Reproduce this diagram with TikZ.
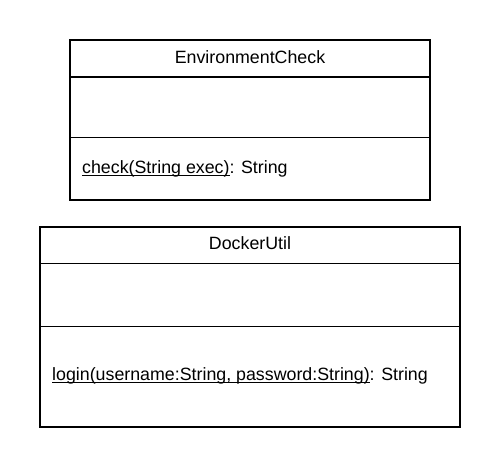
\documentclass[tikz,border=0pt]{standalone}
\usepackage{fontspec}
\setmainfont{Liberation Sans}
\usepackage{tikz}
\usetikzlibrary{calc}
\newcommand\opline[1]{\setbox0\hbox{#1}\rlap{\rule[-2.2pt]{\wd0}{1pt}}\box0}
\tikzset{
	classbox/.style={draw=black, line width=1.6pt},
	classtext/.style={font=\fontsize{17.8}{21}\selectfont, inner sep=0pt}
}

\begin{document}
\begin{tikzpicture}[x=1pt, y=-1pt]
		%%%%% START %%%%%
		\useasboundingbox[fill=white] (0, 0) rectangle (500, 467);
		
		% EnvironmentCheck
		\draw[classbox] (70, 40) rectangle (430, 200);
		\draw[classbox] (70, 77) -- (430, 77);
		\draw[classbox] (70, 137.5) -- (430, 137.5);
		\node[classtext, anchor=base] (envname) at (250, 63.5) {EnvironmentCheck};
		\node[classtext, anchor=base west] (envop) at (82, 173.5) {\opline{check(String exec)}: String};
		
		% DockerUtil
		\draw[classbox] (40, 227) rectangle (460, 427);
		\draw[classbox] (40, 263.5) -- (460, 263.5);
		\draw[classbox] (40, 326.5) -- (460, 326.5);
		\node[classtext, anchor=base] (dockname) at (250, 249.5) {DockerUtil};
		\node[classtext, anchor=base west] (dockop) at (52, 380.5) {\opline{login(username:String, password:String)}: String};
		%%%%% END %%%%%
	\end{tikzpicture}
\end{document}
